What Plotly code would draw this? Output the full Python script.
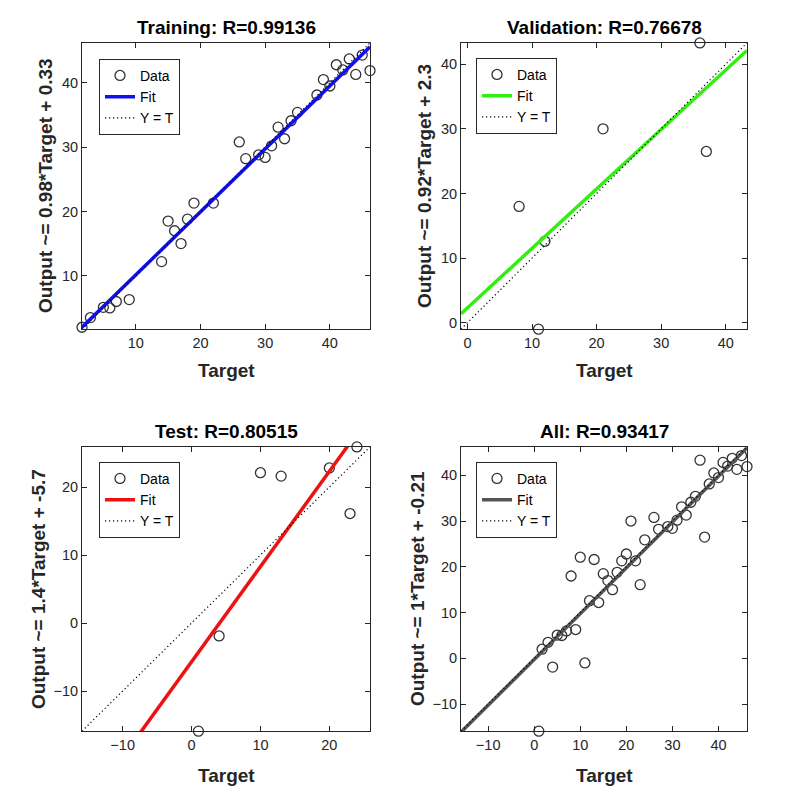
import plotly.graph_objects as go

# ---------------- data ----------------
train_target = [1.7, 3, 5, 6, 7, 9, 14, 15, 16, 17, 18, 19, 22, 26, 27, 29, 30, 31,
                32, 33, 34, 35, 38, 39, 40, 41, 42, 43, 44, 45, 46.2]
train_output = [2.0, 3.5, 5.1, 5.0, 6.0, 6.3, 12.2, 18.5, 17.0, 15.0, 18.8, 21.3, 21.3,
                30.8, 28.2, 28.8, 28.4, 30.2, 33.1, 31.3, 34.1, 35.4, 38.1, 40.5, 39.5,
                42.8, 42.0, 43.7, 41.3, 44.3, 41.9]
val_target = [36, 21, 37, 8, 12, 11]
val_output = [43.3, 30.0, 26.5, 18.0, 12.6, -1.0]
test_target = [24, 10, 13, 20, 23, 4, 1]
test_output = [25.9, 22.1, 21.6, 22.8, 16.1, -1.9, -15.9]
all_target = train_target + val_target + test_target
all_output = train_output + val_output + test_output

titles = ["Training: R=0.99136", "Validation: R=0.76678", "Test: R=0.80515", "All: R=0.93417"]
ylabels = ["Output ~= 0.98*Target + 0.33", "Output ~= 0.92*Target + 2.3",
           "Output ~= 1.4*Target + -5.7", "Output ~= 1*Target + -0.21"]
fit_slope = [0.98, 0.92, 1.4, 1.0]
fit_intercept = [0.33, 2.3, -5.7, -0.21]
legend_labels = ["Data", "Fit", "Y = T"]

targets = [train_target, val_target, test_target, all_target]
outputs = [train_output, val_output, test_output, all_output]

# ---------------- styling / layout (pixels) ----------------
W, H = 792, 801
fit_colors = ["#1010f0", "#33ee11", "#ee1111", "#555555"]
panels = [(82, 370, 43, 330), (461, 747, 43, 330), (82, 370, 448, 733), (461, 747, 448, 733)]
legend_pos = [(99, 59), (476, 58), (99, 463), (476, 463)]
title_y = [28, 28, 433, 433]
xlabel_y = [371, 371, 777, 777]
ylabel_x = [45, 424, 38, 417]
FONT = "Liberation Sans, Arial, sans-serif"
AX = "#262626"


def px(x):
    return x / W


def py(y):
    return 1 - y / H


fig = go.Figure()
annotations = []
layout_axes = {}

for i in range(4):
    t, o = targets[i], outputs[i]
    lo = min(min(t), min(o))
    hi = max(max(t), max(o))
    n = "" if i == 0 else str(i + 1)
    xa, ya = "x" + n, "y" + n
    lg = "legend" + n

    fig.add_trace(go.Scatter(
        x=t, y=o, mode="markers", name=legend_labels[0], xaxis=xa, yaxis=ya, legend=lg,
        marker=dict(symbol="circle-open", size=10, color="#333333", line=dict(width=1.3)),
        cliponaxis=False, showlegend=True))
    fig.add_trace(go.Scatter(
        x=[lo, hi], y=[fit_slope[i] * lo + fit_intercept[i], fit_slope[i] * hi + fit_intercept[i]],
        mode="lines", name=legend_labels[1], xaxis=xa, yaxis=ya, legend=lg,
        line=dict(color=fit_colors[i], width=3.5)))
    fig.add_trace(go.Scatter(
        x=[lo, hi], y=[lo, hi], mode="lines", name=legend_labels[2], xaxis=xa, yaxis=ya,
        legend=lg, line=dict(color="black", width=1.2, dash="1.2px,2.8px")))

    x0, x1, y0, y1 = panels[i]
    common = dict(range=[lo, hi], dtick=10, tick0=0, showgrid=False, zeroline=False,
                  showline=True, linecolor=AX, linewidth=1, mirror="ticks",
                  ticks="inside", ticklen=5, tickcolor=AX, tickwidth=1,
                  tickfont=dict(family=FONT, size=14.5, color=AX))
    layout_axes["xaxis" + n] = dict(common, domain=[px(x0), px(x1)], anchor=ya)
    layout_axes["yaxis" + n] = dict(common, domain=[py(y1), py(y0)], anchor=xa)
    lx, ly = legend_pos[i]
    layout_axes[lg] = dict(x=px(lx), y=py(ly), xanchor="left", yanchor="top",
                           bgcolor="white", bordercolor=AX, borderwidth=1,
                           font=dict(family=FONT, size=14, color="black"),
                           itemwidth=30, tracegroupgap=0)

    cx = (x0 + x1) / 2
    annotations.append(dict(text="<b>" + titles[i] + "</b>", x=px(cx), y=py(title_y[i]),
                            xref="paper", yref="paper", showarrow=False,
                            xanchor="center", yanchor="middle",
                            font=dict(family=FONT, size=19, color="black")))
    annotations.append(dict(text="<b>Target</b>", x=px(cx), y=py(xlabel_y[i]),
                            xref="paper", yref="paper", showarrow=False,
                            xanchor="center", yanchor="middle",
                            font=dict(family=FONT, size=19, color=AX)))
    annotations.append(dict(text="<b>" + ylabels[i] + "</b>", x=px(ylabel_x[i]),
                            y=py((y0 + y1) / 2), xref="paper", yref="paper",
                            showarrow=False, textangle=-90,
                            xanchor="center", yanchor="middle",
                            font=dict(family=FONT, size=19, color=AX)))

fig.update_layout(width=W, height=H, margin=dict(l=0, r=0, t=0, b=0),
                  paper_bgcolor="white", plot_bgcolor="white",
                  annotations=annotations, **layout_axes)

fig.write_html("out.html", config={"displayModeBar": False},
               post_script="document.body.style.margin='0';document.body.style.overflow='hidden';")
